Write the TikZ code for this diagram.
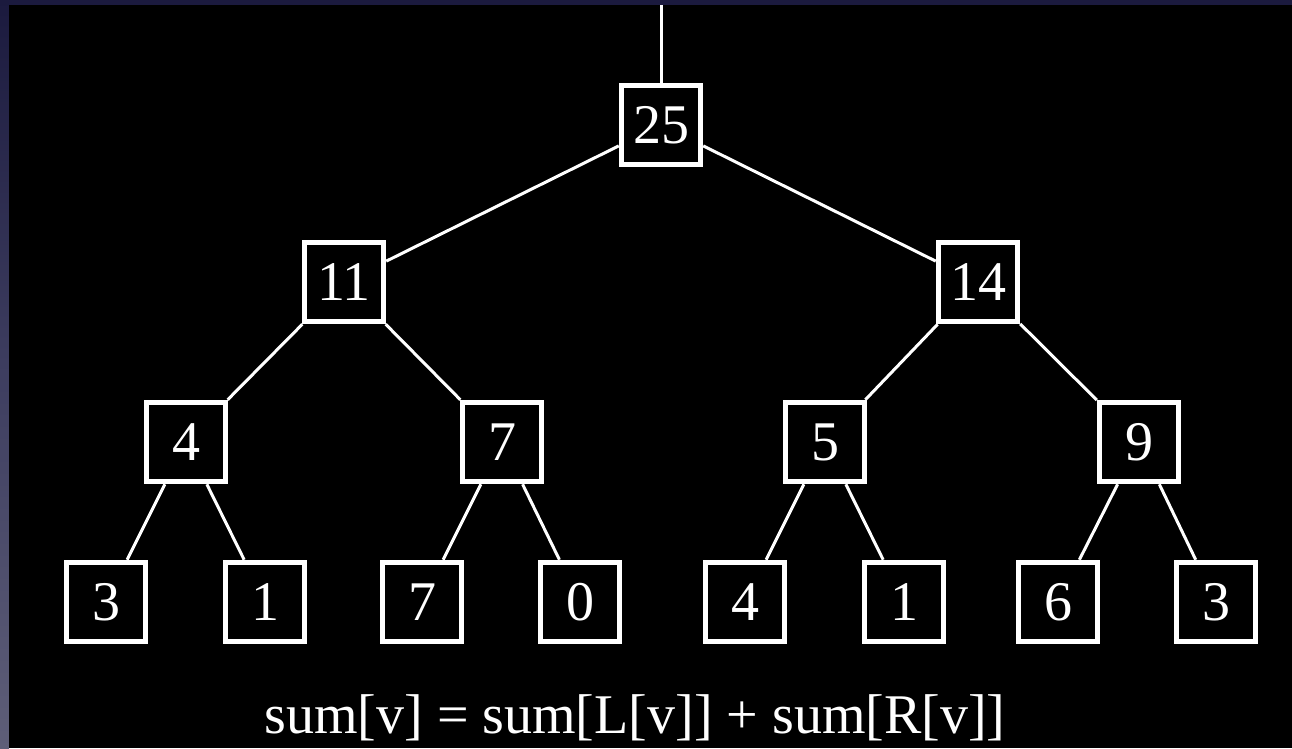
\documentclass[tikz,border=0pt]{standalone}
\usepackage{fontspec}
\setmainfont{Liberation Serif}
\definecolor{navytop}{HTML}{1B1A3E}
\definecolor{stripmid}{HTML}{3E3E60}
\definecolor{stripbot}{HTML}{5E5E78}
\begin{document}
\begin{tikzpicture}[x=1pt,y=-1pt,
  box/.style={draw=white, line width=5.5pt, fill=black, minimum width=79pt, minimum height=79pt,
    inner sep=0pt, text=white, font=\fontsize{56}{60}\selectfont},
  edge/.style={draw=white, line width=3pt},
  formula/.style={text=white, font=\fontsize{56}{60}\selectfont, inner sep=0pt, anchor=base}]
% background
\useasboundingbox (0,0) rectangle (1292,748);
\fill[navytop] (0,0) rectangle (1292,748);
\shade[top color=navytop, bottom color=stripbot, middle color=stripmid] (0,0) rectangle (9,748);
\fill[navytop] (0,0) rectangle (1292,5);
\fill[black] (9,5) rectangle (1292,748);
% nodes
\node[box] (r) at (661,125) {25};
\node[box] (a) at (344,282) {11};
\node[box] (b) at (978,282) {14};
\node[box] (aa) at (186,442) {4};
\node[box] (ab) at (502,442) {7};
\node[box] (ba) at (825,442) {5};
\node[box] (bb) at (1139,442) {9};
\node[box] (l1) at (106,602) {3};
\node[box] (l2) at (265,602) {1};
\node[box] (l3) at (422,602) {7};
\node[box] (l4) at (580,602) {0};
\node[box] (l5) at (745,602) {4};
\node[box] (l6) at (904,602) {1};
\node[box] (l7) at (1058,602) {6};
\node[box] (l8) at (1216,602) {3};
\coordinate (top) at (661,5);
% edges
\draw[edge] (top) -- (r);
\draw[edge] (r) -- (a);
\draw[edge] (r) -- (b);
\draw[edge] (a) -- (aa);
\draw[edge] (a) -- (ab);
\draw[edge] (b) -- (ba);
\draw[edge] (b) -- (bb);
\draw[edge] (aa) -- (l1);
\draw[edge] (aa) -- (l2);
\draw[edge] (ab) -- (l3);
\draw[edge] (ab) -- (l4);
\draw[edge] (ba) -- (l5);
\draw[edge] (ba) -- (l6);
\draw[edge] (bb) -- (l7);
\draw[edge] (bb) -- (l8);
% formula
\node[formula] (f) at (635,733) {sum[v] = sum[L[v]] + sum[R[v]]};
\end{tikzpicture}
\end{document}
